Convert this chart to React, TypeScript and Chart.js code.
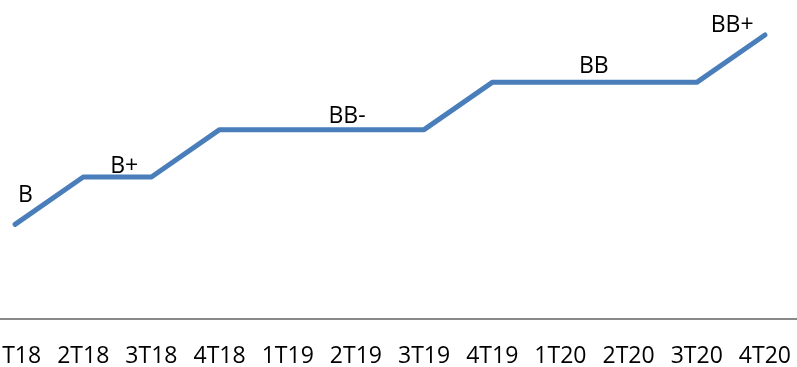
import React, { useEffect, useRef } from "react";
import { Chart, registerables } from "chart.js";

Chart.register(...registerables);

const categories = ["1T18", "2T18", "3T18", "4T18", "1T19", "2T19", "3T19", "4T19", "1T20", "2T20", "3T20", "4T20"];
// rating scale: B=2, B+=3, BB-=4, BB=5, BB+=6
const ratingValues = [2, 3, 3, 4, 4, 4, 4, 5, 5, 5, 5, 6];
const labelTexts = ["B", "B+", "BB-", "BB", "BB+"];
const labelX = [0.15, 1.6, 4.87, 8.49, 10.52];
const labelY = [2.47, 3.08, 4.14, 5.2, 6.06];

const FONT = "'Open Sans', sans-serif";

const labelPlugin = {
  id: "ratingLabels",
  afterDatasetsDraw(chart: any) {
    const { ctx, scales } = chart;
    const xs = scales.x;
    const ys = scales.y;
    const step = xs.getPixelForValue(1) - xs.getPixelForValue(0);
    const x0 = xs.getPixelForValue(0);
    ctx.save();
    ctx.font = `23px ${FONT}`;
    ctx.fillStyle = "#000";
    ctx.textAlign = "center";
    ctx.textBaseline = "alphabetic";
    labelTexts.forEach((t, i) => {
      ctx.fillText(t, x0 + step * labelX[i], ys.getPixelForValue(labelY[i]));
    });
    ctx.restore();
  },
};

export default function App() {
  const ref = useRef<HTMLCanvasElement>(null);
  useEffect(() => {
    if (!ref.current) return;
    const chart = new Chart(ref.current, {
      type: "line",
      data: {
        labels: categories,
        datasets: [
          {
            data: ratingValues,
            borderColor: "#4a7ebb",
            borderWidth: 5,
            borderCapStyle: "round",
            borderJoinStyle: "round",
            pointRadius: 0,
            tension: 0,
            fill: false,
            clip: false as any,
          },
        ],
      },
      options: {
        responsive: false,
        animation: false,
        layout: { padding: { top: 35, left: 21, right: 21, bottom: 0 } },
        plugins: { legend: { display: false }, tooltip: { enabled: false } },
        scales: {
          x: {
            offset: true,
            grid: { display: false, drawTicks: false },
            border: { display: true, color: "#888888", width: 2 },
            ticks: {
              color: "#000",
              padding: 24,
              autoSkip: false,
              maxRotation: 0,
              font: { family: FONT, size: 23 },
            },
            afterFit: (s: any) => {
              s.height = 48;
            },
          },
          y: {
            display: false,
            min: 0,
            max: 6,
          },
        },
      },
      plugins: [labelPlugin],
    });
    return () => chart.destroy();
  }, []);
  return (
    <div style={{ position: "fixed", left: 0, top: 0, width: 797, height: 367, overflow: "hidden", background: "#fff" }}>
      <div style={{ position: "absolute", left: -40, top: 0, width: 860, height: 367 }}>
        <canvas ref={ref} width={860} height={367} style={{ width: 860, height: 367, display: "block" }} />
      </div>
    </div>
  );
}
